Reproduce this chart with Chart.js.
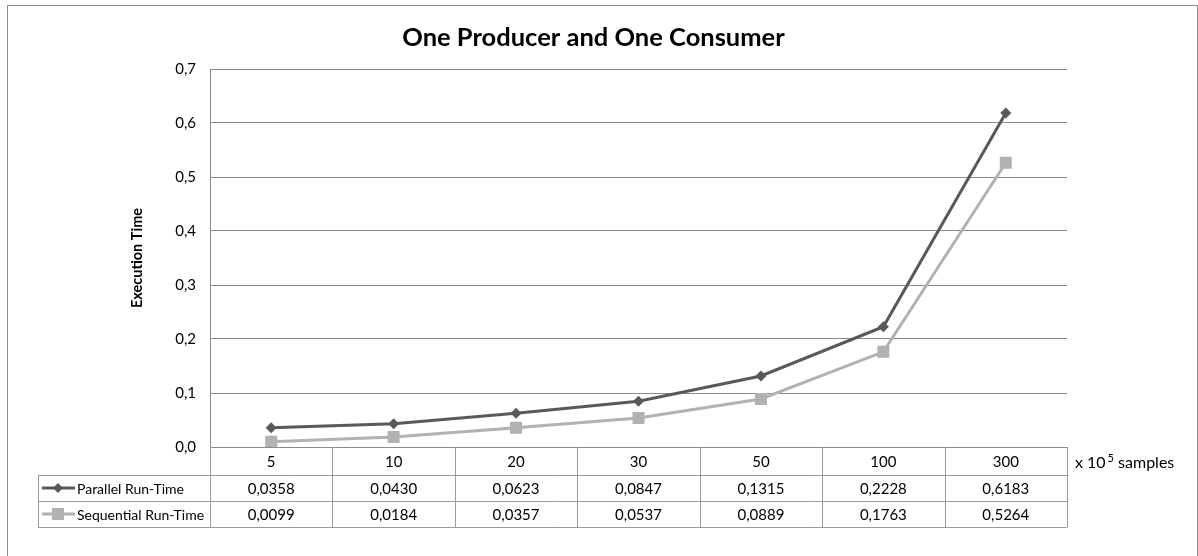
<!DOCTYPE html>
<html>
<head>
<meta charset="utf-8">
<script src="https://cdn.jsdelivr.net/npm/chart.js@4/dist/chart.umd.min.js"></script>
<style>
  html, body { margin: 0; padding: 0; background: #ffffff; }
  #wrap { width: 1198px; height: 556px; position: relative; }
</style>
</head>
<body>
<div id="wrap"><canvas id="c" width="1198" height="556"></canvas></div>
<script>
const categories = ['5', '10', '20', '30', '50', '100', '300'];
const parallelRunTime = [0.0358, 0.0430, 0.0623, 0.0847, 0.1315, 0.2228, 0.6183];
const sequentialRunTime = [0.0099, 0.0184, 0.0357, 0.0537, 0.0889, 0.1763, 0.5264];
const parallelLabels = ['0,0358', '0,0430', '0,0623', '0,0847', '0,1315', '0,2228', '0,6183'];
const sequentialLabels = ['0,0099', '0,0184', '0,0357', '0,0537', '0,0889', '0,1763', '0,5264'];
const yTickValues = [0, 0.1, 0.2, 0.3, 0.4, 0.5, 0.6, 0.7];
const yTickLabels = ['0,0', '0,1', '0,2', '0,3', '0,4', '0,5', '0,6', '0,7'];
const seriesNames = ['Parallel Run-Time', 'Sequential Run-Time'];

const FONT = 'Lato, "Open Sans", sans-serif';
const DARK = '#595959';
const LIGHT = '#b2b2b2';
const GRID = '#8a8a8a';
const TABLE = '#9a9a9a';

const tablePlugin = {
  id: 'excelTable',
  afterDraw(chart) {
    const ctx = chart.ctx;
    const x = chart.scales.x;
    const area = chart.chartArea;
    const n = categories.length;
    const step = (area.right - area.left) / n;
    const y0 = area.bottom;
    const r1 = y0 + 28;
    const r2 = r1 + 26;
    const r3 = r2 + 26;
    const tableLeft = 38;
    ctx.save();
    ctx.strokeStyle = TABLE;
    ctx.lineWidth = 1;
    ctx.beginPath();
    const px = v => Math.round(v) + 0.5;
    ctx.moveTo(tableLeft, px(r1)); ctx.lineTo(area.right, px(r1));
    ctx.moveTo(tableLeft, px(r2)); ctx.lineTo(area.right, px(r2));
    ctx.moveTo(tableLeft, px(r3)); ctx.lineTo(area.right, px(r3));
    for (let i = 0; i <= n; i++) {
      const xv = px(area.left + i * step);
      ctx.moveTo(xv, y0); ctx.lineTo(xv, px(r3));
    }
    ctx.moveTo(px(tableLeft), px(r1)); ctx.lineTo(px(tableLeft), px(r3));
    ctx.stroke();

    ctx.fillStyle = '#000';
    ctx.font = '15px ' + FONT;
    ctx.textAlign = 'center';
    ctx.textBaseline = 'middle';
    for (let i = 0; i < n; i++) {
      const cx = x.getPixelForValue(i);
      ctx.fillText(categories[i], cx, (y0 + r1) / 2 + 1);
      ctx.fillText(parallelLabels[i], cx, (r1 + r2) / 2 + 1);
      ctx.fillText(sequentialLabels[i], cx, (r2 + r3) / 2 + 1);
    }
    const ds = chart.data.datasets;
    const rowsY = [(r1 + r2) / 2, (r2 + r3) / 2];
    ctx.font = '14px ' + FONT;
    for (let k = 0; k < 2; k++) {
      const yy = rowsY[k];
      ctx.strokeStyle = ds[k].borderColor;
      ctx.lineWidth = 3;
      ctx.beginPath();
      ctx.moveTo(42, yy); ctx.lineTo(75, yy);
      ctx.stroke();
      ctx.fillStyle = ds[k].borderColor;
      if (k === 0) {
        ctx.beginPath();
        ctx.moveTo(58, yy - 5); ctx.lineTo(63, yy); ctx.lineTo(58, yy + 5); ctx.lineTo(53, yy);
        ctx.closePath(); ctx.fill();
      } else {
        ctx.fillRect(52, yy - 6, 12, 12);
      }
      ctx.fillStyle = '#000';
      ctx.textAlign = 'left';
      ctx.fillText(seriesNames[k], 77, yy + 1);
    }
    ctx.textAlign = 'left';
    ctx.font = '16px ' + FONT;
    const ux = 1075, uy = (y0 + r1) / 2 + 2;
    ctx.fillText('x 10', ux, uy);
    let w = ctx.measureText('x 10').width + 2;
    ctx.font = '11px ' + FONT;
    ctx.fillText('5', ux + w, uy - 5);
    w += ctx.measureText('5').width;
    ctx.font = '16px ' + FONT;
    ctx.fillText(' samples', ux + w, uy);

    ctx.strokeStyle = '#8c8c8c';
    ctx.lineWidth = 1;
    ctx.strokeRect(7.5, 5.5, 1190, 600);
    ctx.restore();
  }
};

new Chart(document.getElementById('c'), {
  type: 'line',
  data: {
    labels: categories,
    datasets: [
      {
        label: seriesNames[0],
        data: parallelRunTime,
        borderColor: DARK,
        backgroundColor: DARK,
        borderWidth: 3,
        pointStyle: 'rectRot',
        pointRadius: 5.5,
        pointHoverRadius: 5.5,
        pointBorderWidth: 0,
        tension: 0
      },
      {
        label: seriesNames[1],
        data: sequentialRunTime,
        borderColor: LIGHT,
        backgroundColor: LIGHT,
        borderWidth: 3,
        pointStyle: 'rect',
        pointRadius: 8.5,
        pointHoverRadius: 8.5,
        pointBorderWidth: 0,
        tension: 0
      }
    ]
  },
  options: {
    responsive: false,
    animation: false,
    events: [],
    layout: { padding: { left: 120, right: 131, top: 0, bottom: 0 } },
    plugins: {
      legend: { display: false },
      tooltip: { enabled: false },
      title: {
        display: true,
        text: 'One Producer and One Consumer',
        color: '#000',
        font: { family: FONT, size: 25.5, weight: 'bold', lineHeight: 1.2 },
        padding: { top: 22, bottom: 16.4 }
      }
    },
    scales: {
      x: {
        type: 'category',
        offset: true,
        grid: { display: false },
        border: { display: true, color: GRID, width: 1 },
        ticks: { display: false },
        afterFit(scale) { scale.height = 109; }
      },
      y: {
        min: 0,
        max: 0.7,
        afterBuildTicks(scale) { scale.ticks = yTickValues.map(v => ({ value: v })); },
        ticks: {
          color: '#000',
          font: { family: FONT, size: 15 },
          padding: 14,
          callback: (v, i) => yTickLabels[i]
        },
        grid: { color: GRID, drawTicks: false, lineWidth: 1 },
        border: { display: true, color: GRID, width: 1 },
        title: {
          display: true,
          text: 'Execution Time',
          color: '#000',
          font: { family: FONT, size: 14.5, weight: 'bold', lineHeight: 1.2 },
          padding: { top: 8.3, bottom: 0 }
        },
        afterFit(scale) { scale.width = 90; }
      }
    }
  },
  plugins: [tablePlugin]
});
</script>
</body>
</html>
